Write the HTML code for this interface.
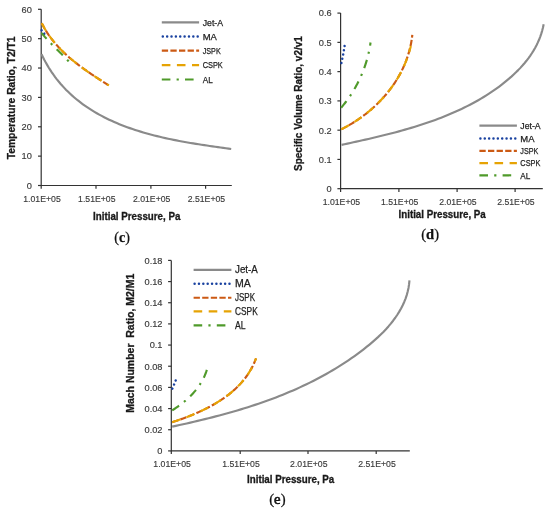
<!DOCTYPE html>
<html><head><meta charset="utf-8"><style>
html,body{margin:0;padding:0;background:#fff;width:550px;height:512px;overflow:hidden}
svg{display:block;will-change:transform}
</style></head><body>
<svg width="550" height="512" viewBox="0 0 550 512">
<rect width="550" height="512" fill="#fff"/>
<path d="M41.2,9.3 V185.5 H231.8" fill="none" stroke="#333" stroke-width="1.2"/>
<path d="M38.0,185.50 H41.2" stroke="#333" stroke-width="1.2"/>
<text x="31.8" y="188.85" font-family="Liberation Sans" font-size="9.25" font-weight="normal" text-anchor="end" fill="#3a3a3a" stroke="#3a3a3a" stroke-width="0.15">0</text>
<path d="M38.0,156.13 H41.2" stroke="#333" stroke-width="1.2"/>
<text x="31.8" y="159.48" font-family="Liberation Sans" font-size="9.25" font-weight="normal" text-anchor="end" fill="#3a3a3a" stroke="#3a3a3a" stroke-width="0.15">10</text>
<path d="M38.0,126.77 H41.2" stroke="#333" stroke-width="1.2"/>
<text x="31.8" y="130.12" font-family="Liberation Sans" font-size="9.25" font-weight="normal" text-anchor="end" fill="#3a3a3a" stroke="#3a3a3a" stroke-width="0.15">20</text>
<path d="M38.0,97.40 H41.2" stroke="#333" stroke-width="1.2"/>
<text x="31.8" y="100.75" font-family="Liberation Sans" font-size="9.25" font-weight="normal" text-anchor="end" fill="#3a3a3a" stroke="#3a3a3a" stroke-width="0.15">30</text>
<path d="M38.0,68.03 H41.2" stroke="#333" stroke-width="1.2"/>
<text x="31.8" y="71.38" font-family="Liberation Sans" font-size="9.25" font-weight="normal" text-anchor="end" fill="#3a3a3a" stroke="#3a3a3a" stroke-width="0.15">40</text>
<path d="M38.0,38.67 H41.2" stroke="#333" stroke-width="1.2"/>
<text x="31.8" y="42.02" font-family="Liberation Sans" font-size="9.25" font-weight="normal" text-anchor="end" fill="#3a3a3a" stroke="#3a3a3a" stroke-width="0.15">50</text>
<path d="M38.0,9.30 H41.2" stroke="#333" stroke-width="1.2"/>
<text x="31.8" y="12.65" font-family="Liberation Sans" font-size="9.25" font-weight="normal" text-anchor="end" fill="#3a3a3a" stroke="#3a3a3a" stroke-width="0.15">60</text>
<path d="M41.20,185.5 V188.7" stroke="#333" stroke-width="1.2"/>
<text x="42.00" y="201.80" font-family="Liberation Sans" font-size="9.4" font-weight="normal" text-anchor="middle" fill="#3a3a3a" stroke="#3a3a3a" stroke-width="0.15" textLength="37.5" lengthAdjust="spacingAndGlyphs">1.01E+05</text>
<path d="M96.00,185.5 V188.7" stroke="#333" stroke-width="1.2"/>
<text x="96.80" y="201.80" font-family="Liberation Sans" font-size="9.4" font-weight="normal" text-anchor="middle" fill="#3a3a3a" stroke="#3a3a3a" stroke-width="0.15" textLength="37.5" lengthAdjust="spacingAndGlyphs">1.51E+05</text>
<path d="M150.90,185.5 V188.7" stroke="#333" stroke-width="1.2"/>
<text x="151.70" y="201.80" font-family="Liberation Sans" font-size="9.4" font-weight="normal" text-anchor="middle" fill="#3a3a3a" stroke="#3a3a3a" stroke-width="0.15" textLength="37.5" lengthAdjust="spacingAndGlyphs">2.01E+05</text>
<path d="M205.60,185.5 V188.7" stroke="#333" stroke-width="1.2"/>
<text x="206.40" y="201.80" font-family="Liberation Sans" font-size="9.4" font-weight="normal" text-anchor="middle" fill="#3a3a3a" stroke="#3a3a3a" stroke-width="0.15" textLength="37.5" lengthAdjust="spacingAndGlyphs">2.51E+05</text>
<text x="136.75" y="219.8" font-family="Liberation Sans" font-size="10" font-weight="bold" text-anchor="middle" fill="#1a1a1a" stroke="#1a1a1a" stroke-width="0.3" textLength="87.3" lengthAdjust="spacingAndGlyphs">Initial Pressure, Pa</text>
<text transform="translate(14.7,159.3) rotate(-90)" x="0" y="0" font-family="Liberation Sans" font-size="10.5" font-weight="bold" fill="#1a1a1a" stroke="#1a1a1a" stroke-width="0.3" textLength="122.8" lengthAdjust="spacingAndGlyphs" xml:space="preserve">Temperature Ratio, T2/T1</text>
<path d="M41.54,54.16 L42.87,56.94 L44.24,59.65 L45.66,62.31 L47.13,64.90 L48.65,67.45 L50.21,69.93 L51.81,72.36 L53.46,74.73 L55.16,77.06 L56.89,79.32 L58.67,81.54 L60.49,83.70 L62.35,85.81 L64.25,87.87 L66.18,89.89 L68.16,91.85 L70.17,93.76 L72.21,95.63 L74.29,97.45 L76.41,99.23 L78.56,100.96 L80.74,102.64 L82.95,104.28 L85.19,105.88 L87.46,107.44 L89.76,108.95 L92.09,110.42 L94.45,111.86 L96.83,113.25 L99.24,114.61 L101.68,115.92 L104.13,117.21 L106.61,118.45 L109.12,119.66 L111.64,120.83 L114.19,121.97 L116.75,123.07 L119.34,124.15 L121.94,125.19 L124.56,126.20 L127.19,127.18 L129.84,128.13 L132.51,129.04 L135.19,129.94 L137.88,130.80 L140.59,131.64 L143.30,132.45 L146.03,133.23 L148.77,133.99 L151.51,134.73 L154.26,135.44 L157.03,136.13 L159.79,136.80 L162.56,137.45 L165.34,138.08 L168.12,138.69 L170.91,139.28 L173.69,139.85 L176.48,140.40 L179.27,140.94 L182.05,141.46 L184.84,141.97 L187.62,142.46 L190.40,142.94 L193.18,143.40 L195.95,143.85 L198.72,144.30 L201.48,144.73 L204.24,145.15 L206.98,145.56 L209.72,145.96 L212.45,146.36 L215.16,146.74 L217.87,147.13 L220.56,147.50 L223.24,147.87 L225.91,148.24 L228.56,148.60 L231.20,148.96" fill="none" stroke="#8a8a8a" stroke-width="2.15" stroke-linecap="butt" stroke-linejoin="round"/>
<path d="M41.60,30.20 L44.30,33.70" fill="none" stroke="#1a42a0" stroke-width="2.5" stroke-linecap="round" stroke-linejoin="round" stroke-dasharray="0.01 4.35"/>
<path d="M41.76,23.15 L42.31,24.24 L42.87,25.32 L43.44,26.39 L44.03,27.44 L44.62,28.49 L45.23,29.52 L45.85,30.55 L46.48,31.56 L47.12,32.57 L47.78,33.56 L48.44,34.55 L49.12,35.52 L49.80,36.49 L50.50,37.45 L51.20,38.39 L51.92,39.33 L52.64,40.26 L53.38,41.18 L54.12,42.10 L54.88,43.00 L55.64,43.89 L56.41,44.78 L57.19,45.66 L57.98,46.53 L58.78,47.39 L59.59,48.25 L60.40,49.10 L61.22,49.94 L62.05,50.77 L62.89,51.59 L63.73,52.41 L64.58,53.22 L65.44,54.03 L66.31,54.82 L67.18,55.61 L68.06,56.40 L68.94,57.18 L69.83,57.95 L70.73,58.71 L71.63,59.47 L72.54,60.23 L73.46,60.97 L74.37,61.72 L75.30,62.45 L76.23,63.19 L77.16,63.91 L78.10,64.63 L79.04,65.35 L79.99,66.06 L80.94,66.77 L81.89,67.47 L82.85,68.17 L83.81,68.86 L84.78,69.55 L85.74,70.24 L86.72,70.92 L87.69,71.60 L88.67,72.27 L89.64,72.95 L90.62,73.61 L91.61,74.28 L92.59,74.94 L93.58,75.60 L94.57,76.25 L95.56,76.91 L96.55,77.56 L97.54,78.20 L98.53,78.85 L99.53,79.49 L100.52,80.13 L101.51,80.77 L102.51,81.41 L103.50,82.04 L104.50,82.68 L105.49,83.31 L106.48,83.94 L107.48,84.57 L108.47,85.20 L109.46,85.83" fill="none" stroke="#cc5a14" stroke-width="2.15" stroke-linecap="butt" stroke-linejoin="round" stroke-dasharray="6.3 2.3"/>
<path d="M41.76,23.16 L42.30,24.24 L42.86,25.31 L43.43,26.37 L44.01,27.41 L44.60,28.45 L45.21,29.48 L45.82,30.50 L46.45,31.50 L47.09,32.50 L47.74,33.49 L48.40,34.47 L49.07,35.44 L49.75,36.40 L50.44,37.35 L51.14,38.29 L51.85,39.22 L52.56,40.15 L53.29,41.06 L54.03,41.97 L54.78,42.87 L55.54,43.76 L56.30,44.64 L57.07,45.52 L57.86,46.38 L58.65,47.24 L59.45,48.09 L60.25,48.94 L61.07,49.77 L61.89,50.60 L62.72,51.42 L63.55,52.24 L64.40,53.05 L65.25,53.85 L66.11,54.64 L66.97,55.43 L67.84,56.21 L68.72,56.98 L69.60,57.75 L70.49,58.52 L71.38,59.27 L72.28,60.02 L73.19,60.77 L74.10,61.51 L75.01,62.24 L75.93,62.97 L76.86,63.70 L77.79,64.41 L78.72,65.13 L79.66,65.84 L80.61,66.54 L81.55,67.24 L82.50,67.93 L83.46,68.63 L84.41,69.31 L85.37,69.99 L86.34,70.67 L87.30,71.35 L88.27,72.02 L89.24,72.68 L90.22,73.35 L91.19,74.01 L92.17,74.66 L93.15,75.32 L94.13,75.97 L95.12,76.62 L96.10,77.26 L97.09,77.90 L98.07,78.54 L99.06,79.18 L100.05,79.81 L101.04,80.45 L102.03,81.08 L103.02,81.71 L104.01,82.33 L105.00,82.96 L105.99,83.58 L106.98,84.20 L107.96,84.82 L108.95,85.44" fill="none" stroke="#e6a304" stroke-width="2.15" stroke-linecap="butt" stroke-linejoin="round" stroke-dasharray="8.6 6.5"/>
<path d="M41.61,32.89 L41.92,33.30 L42.24,33.70 L42.56,34.10 L42.89,34.49 L43.21,34.89 L43.54,35.28 L43.87,35.68 L44.20,36.07 L44.53,36.46 L44.86,36.85 L45.20,37.23 L45.54,37.62 L45.87,38.00 L46.21,38.38 L46.56,38.76 L46.90,39.14 L47.24,39.52 L47.59,39.90 L47.93,40.27 L48.28,40.65 L48.63,41.02 L48.98,41.39 L49.33,41.77 L49.68,42.14 L50.04,42.51 L50.39,42.87 L50.75,43.24 L51.10,43.61 L51.46,43.98 L51.82,44.34 L52.18,44.71 L52.54,45.07 L52.89,45.43 L53.26,45.80 L53.62,46.16 L53.98,46.52 L54.34,46.88 L54.70,47.24 L55.06,47.60 L55.43,47.96 L55.79,48.32 L56.16,48.68 L56.52,49.04 L56.88,49.40 L57.25,49.76 L57.61,50.12 L57.98,50.48 L58.34,50.84 L58.71,51.20 L59.07,51.56 L59.43,51.92 L59.80,52.28 L60.16,52.64 L60.53,53.00 L60.89,53.36 L61.25,53.72 L61.61,54.08 L61.98,54.44 L62.34,54.80 L62.70,55.16 L63.06,55.53 L63.42,55.89 L63.78,56.25 L64.14,56.62 L64.50,56.98 L64.85,57.35 L65.21,57.72 L65.56,58.08 L65.92,58.45 L66.27,58.82 L66.63,59.19 L66.98,59.56 L67.33,59.94 L67.68,60.31 L68.03,60.68 L68.37,61.06 L68.72,61.44 L69.06,61.81 L69.41,62.19" fill="none" stroke="#4f9a2a" stroke-width="2.15" stroke-linecap="butt" stroke-linejoin="round" stroke-dasharray="8.6 6.2 2.2 6.2" stroke-dashoffset="0.9"/>
<path d="M161.8,22.3 H199.1" fill="none" stroke="#8a8a8a" stroke-width="2.15" stroke-linecap="butt" stroke-linejoin="round"/>
<text x="202.7" y="25.63" font-family="Liberation Sans" font-size="9.3" font-weight="normal" text-anchor="start" fill="#222" stroke="#222" stroke-width="0.25" textLength="20.4" lengthAdjust="spacingAndGlyphs">Jet-A</text>
<path d="M162.8,36.4 H199.1" fill="none" stroke="#1a42a0" stroke-width="2.5" stroke-linecap="round" stroke-linejoin="round" stroke-dasharray="0.01 4.35"/>
<text x="202.7" y="39.73" font-family="Liberation Sans" font-size="9.3" font-weight="normal" text-anchor="start" fill="#222" stroke="#222" stroke-width="0.25" textLength="14.2" lengthAdjust="spacingAndGlyphs">MA</text>
<path d="M161.8,50.6 H199.1" fill="none" stroke="#cc5a14" stroke-width="2.15" stroke-linecap="butt" stroke-linejoin="round" stroke-dasharray="6.3 2.3"/>
<text x="202.7" y="53.93" font-family="Liberation Sans" font-size="9.3" font-weight="normal" text-anchor="start" fill="#222" stroke="#222" stroke-width="0.25" textLength="18.0" lengthAdjust="spacingAndGlyphs">JSPK</text>
<path d="M161.8,65.1 H199.1" fill="none" stroke="#e6a304" stroke-width="2.15" stroke-linecap="butt" stroke-linejoin="round" stroke-dasharray="8.6 6.5"/>
<text x="202.7" y="68.43" font-family="Liberation Sans" font-size="9.3" font-weight="normal" text-anchor="start" fill="#222" stroke="#222" stroke-width="0.25" textLength="20.1" lengthAdjust="spacingAndGlyphs">CSPK</text>
<path d="M161.8,79.5 H199.1" fill="none" stroke="#4f9a2a" stroke-width="2.15" stroke-linecap="butt" stroke-linejoin="round" stroke-dasharray="8.6 6.2 2.2 6.2"/>
<text x="202.7" y="82.83" font-family="Liberation Sans" font-size="9.3" font-weight="normal" text-anchor="start" fill="#222" stroke="#222" stroke-width="0.25" textLength="10.0" lengthAdjust="spacingAndGlyphs">AL</text>
<text x="114.30" y="241.9" font-family="Liberation Serif" font-size="13.6" fill="#111" stroke="#111" stroke-width="0.25" textLength="15.60" lengthAdjust="spacingAndGlyphs">(<tspan font-weight="bold">c</tspan>)</text>
<path d="M340.6,13.1 V188.7 H542.8" fill="none" stroke="#333" stroke-width="1.2"/>
<path d="M337.40000000000003,188.70 H340.6" stroke="#333" stroke-width="1.2"/>
<text x="331.6" y="192.05" font-family="Liberation Sans" font-size="9.25" font-weight="normal" text-anchor="end" fill="#3a3a3a" stroke="#3a3a3a" stroke-width="0.15">0</text>
<path d="M337.40000000000003,159.43 H340.6" stroke="#333" stroke-width="1.2"/>
<text x="331.6" y="162.78" font-family="Liberation Sans" font-size="9.25" font-weight="normal" text-anchor="end" fill="#3a3a3a" stroke="#3a3a3a" stroke-width="0.15">0.1</text>
<path d="M337.40000000000003,130.17 H340.6" stroke="#333" stroke-width="1.2"/>
<text x="331.6" y="133.52" font-family="Liberation Sans" font-size="9.25" font-weight="normal" text-anchor="end" fill="#3a3a3a" stroke="#3a3a3a" stroke-width="0.15">0.2</text>
<path d="M337.40000000000003,100.90 H340.6" stroke="#333" stroke-width="1.2"/>
<text x="331.6" y="104.25" font-family="Liberation Sans" font-size="9.25" font-weight="normal" text-anchor="end" fill="#3a3a3a" stroke="#3a3a3a" stroke-width="0.15">0.3</text>
<path d="M337.40000000000003,71.63 H340.6" stroke="#333" stroke-width="1.2"/>
<text x="331.6" y="74.98" font-family="Liberation Sans" font-size="9.25" font-weight="normal" text-anchor="end" fill="#3a3a3a" stroke="#3a3a3a" stroke-width="0.15">0.4</text>
<path d="M337.40000000000003,42.37 H340.6" stroke="#333" stroke-width="1.2"/>
<text x="331.6" y="45.72" font-family="Liberation Sans" font-size="9.25" font-weight="normal" text-anchor="end" fill="#3a3a3a" stroke="#3a3a3a" stroke-width="0.15">0.5</text>
<path d="M337.40000000000003,13.10 H340.6" stroke="#333" stroke-width="1.2"/>
<text x="331.6" y="16.45" font-family="Liberation Sans" font-size="9.25" font-weight="normal" text-anchor="end" fill="#3a3a3a" stroke="#3a3a3a" stroke-width="0.15">0.6</text>
<path d="M340.60,188.7 V191.89999999999998" stroke="#333" stroke-width="1.2"/>
<text x="341.40" y="205.00" font-family="Liberation Sans" font-size="9.4" font-weight="normal" text-anchor="middle" fill="#3a3a3a" stroke="#3a3a3a" stroke-width="0.15" textLength="37.5" lengthAdjust="spacingAndGlyphs">1.01E+05</text>
<path d="M398.90,188.7 V191.89999999999998" stroke="#333" stroke-width="1.2"/>
<text x="399.70" y="205.00" font-family="Liberation Sans" font-size="9.4" font-weight="normal" text-anchor="middle" fill="#3a3a3a" stroke="#3a3a3a" stroke-width="0.15" textLength="37.5" lengthAdjust="spacingAndGlyphs">1.51E+05</text>
<path d="M457.10,188.7 V191.89999999999998" stroke="#333" stroke-width="1.2"/>
<text x="457.90" y="205.00" font-family="Liberation Sans" font-size="9.4" font-weight="normal" text-anchor="middle" fill="#3a3a3a" stroke="#3a3a3a" stroke-width="0.15" textLength="37.5" lengthAdjust="spacingAndGlyphs">2.01E+05</text>
<path d="M515.10,188.7 V191.89999999999998" stroke="#333" stroke-width="1.2"/>
<text x="515.90" y="205.00" font-family="Liberation Sans" font-size="9.4" font-weight="normal" text-anchor="middle" fill="#3a3a3a" stroke="#3a3a3a" stroke-width="0.15" textLength="37.5" lengthAdjust="spacingAndGlyphs">2.51E+05</text>
<text x="442.15" y="218.1" font-family="Liberation Sans" font-size="10" font-weight="bold" text-anchor="middle" fill="#1a1a1a" stroke="#1a1a1a" stroke-width="0.3" textLength="87.3" lengthAdjust="spacingAndGlyphs">Initial Pressure, Pa</text>
<text transform="translate(301.5,171.0) rotate(-90)" x="0" y="0" font-family="Liberation Sans" font-size="10.5" font-weight="bold" fill="#1a1a1a" stroke="#1a1a1a" stroke-width="0.3" textLength="134.9" lengthAdjust="spacingAndGlyphs" xml:space="preserve">Specific Volume Ratio, v2/v1</text>
<path d="M341.53,144.88 L344.48,144.25 L347.43,143.61 L350.40,142.96 L353.38,142.31 L356.37,141.66 L359.37,140.99 L362.38,140.32 L365.40,139.64 L368.43,138.95 L371.46,138.25 L374.50,137.53 L377.54,136.81 L380.59,136.07 L383.64,135.32 L386.69,134.56 L389.75,133.78 L392.81,132.99 L395.86,132.18 L398.92,131.35 L401.98,130.51 L405.03,129.65 L408.08,128.77 L411.12,127.87 L414.16,126.95 L417.20,126.01 L420.23,125.05 L423.25,124.06 L426.27,123.06 L429.27,122.03 L432.27,120.97 L435.26,119.89 L438.23,118.79 L441.19,117.65 L444.14,116.49 L447.08,115.31 L450.00,114.09 L452.91,112.84 L455.80,111.57 L458.68,110.26 L461.53,108.93 L464.37,107.56 L467.19,106.15 L469.99,104.72 L472.77,103.25 L475.53,101.74 L478.26,100.20 L480.97,98.62 L483.66,97.01 L486.32,95.36 L488.96,93.67 L491.57,91.94 L494.15,90.17 L496.71,88.36 L499.23,86.51 L501.73,84.62 L504.19,82.68 L506.63,80.70 L509.03,78.68 L511.39,76.61 L513.70,74.49 L515.97,72.33 L518.19,70.12 L520.35,67.87 L522.45,65.56 L524.48,63.20 L526.45,60.79 L528.34,58.32 L530.15,55.81 L531.88,53.23 L533.52,50.61 L535.07,47.92 L536.53,45.18 L537.88,42.38 L539.13,39.53 L540.27,36.61 L541.30,33.63 L542.21,30.59 L543.00,27.48 L543.66,24.31" fill="none" stroke="#8a8a8a" stroke-width="2.15" stroke-linecap="butt" stroke-linejoin="round"/>
<path d="M341.40,63.10 L342.20,59.20 L343.20,54.50 L343.90,50.30 L344.60,45.90" fill="none" stroke="#1a42a0" stroke-width="2.5" stroke-linecap="round" stroke-linejoin="round" stroke-dasharray="0.01 4.35"/>
<path d="M341.32,129.29 L342.70,128.59 L344.08,127.88 L345.45,127.16 L346.81,126.42 L348.17,125.66 L349.51,124.89 L350.85,124.10 L352.19,123.30 L353.51,122.48 L354.83,121.65 L356.14,120.81 L357.44,119.95 L358.73,119.07 L360.01,118.19 L361.28,117.28 L362.54,116.37 L363.79,115.43 L365.04,114.49 L366.27,113.53 L367.49,112.56 L368.70,111.57 L369.90,110.57 L371.09,109.56 L372.26,108.54 L373.43,107.50 L374.58,106.44 L375.72,105.38 L376.85,104.30 L377.96,103.21 L379.07,102.11 L380.15,100.99 L381.23,99.86 L382.29,98.72 L383.34,97.57 L384.37,96.41 L385.39,95.23 L386.40,94.04 L387.39,92.84 L388.36,91.63 L389.32,90.41 L390.27,89.17 L391.19,87.93 L392.11,86.67 L393.00,85.40 L393.88,84.12 L394.75,82.83 L395.59,81.53 L396.42,80.22 L397.23,78.90 L398.03,77.57 L398.80,76.22 L399.56,74.87 L400.30,73.51 L401.02,72.13 L401.72,70.75 L402.40,69.36 L403.07,67.95 L403.71,66.54 L404.34,65.12 L404.94,63.69 L405.52,62.25 L406.09,60.80 L406.63,59.34 L407.15,57.87 L407.65,56.39 L408.13,54.91 L408.59,53.41 L409.03,51.91 L409.44,50.40 L409.83,48.88 L410.20,47.35 L410.55,45.81 L410.87,44.27 L411.17,42.72 L411.45,41.16 L411.70,39.59 L411.93,38.02 L412.13,36.43 L412.31,34.84" fill="none" stroke="#cc5a14" stroke-width="2.15" stroke-linecap="butt" stroke-linejoin="round" stroke-dasharray="6.3 2.3"/>
<path d="M341.27,129.33 L342.54,128.69 L343.80,128.03 L345.06,127.37 L346.31,126.70 L347.55,126.01 L348.79,125.31 L350.02,124.60 L351.24,123.87 L352.46,123.14 L353.67,122.39 L354.87,121.63 L356.06,120.86 L357.25,120.08 L358.42,119.28 L359.59,118.48 L360.75,117.66 L361.90,116.83 L363.05,116.00 L364.18,115.14 L365.31,114.28 L366.42,113.41 L367.53,112.53 L368.63,111.63 L369.72,110.73 L370.79,109.81 L371.86,108.88 L372.92,107.95 L373.97,107.00 L375.01,106.04 L376.04,105.07 L377.06,104.09 L378.07,103.10 L379.06,102.10 L380.05,101.09 L381.02,100.06 L381.99,99.03 L382.94,97.99 L383.88,96.94 L384.81,95.88 L385.73,94.81 L386.63,93.73 L387.53,92.64 L388.41,91.53 L389.28,90.42 L390.14,89.30 L390.98,88.18 L391.81,87.04 L392.63,85.89 L393.44,84.73 L394.23,83.56 L395.01,82.39 L395.77,81.20 L396.52,80.01 L397.26,78.81 L397.99,77.60 L398.70,76.37 L399.39,75.14 L400.08,73.91 L400.74,72.66 L401.40,71.40 L402.03,70.14 L402.66,68.87 L403.27,67.59 L403.86,66.30 L404.44,65.00 L405.00,63.69 L405.55,62.38 L406.08,61.06 L406.59,59.73 L407.09,58.39 L407.57,57.04 L408.04,55.69 L408.49,54.33 L408.92,52.96 L409.34,51.58 L409.74,50.19 L410.12,48.80 L410.49,47.40 L410.84,46.00" fill="none" stroke="#e6a304" stroke-width="2.15" stroke-linecap="butt" stroke-linejoin="round" stroke-dasharray="8.6 6.5"/>
<path d="M341.14,107.74 L341.74,107.04 L342.33,106.34 L342.91,105.63 L343.49,104.91 L344.06,104.20 L344.63,103.48 L345.19,102.75 L345.75,102.02 L346.30,101.29 L346.85,100.55 L347.39,99.81 L347.93,99.06 L348.46,98.31 L348.99,97.56 L349.51,96.80 L350.02,96.04 L350.53,95.28 L351.04,94.51 L351.53,93.74 L352.03,92.97 L352.51,92.19 L353.00,91.41 L353.47,90.62 L353.94,89.83 L354.41,89.04 L354.87,88.25 L355.32,87.45 L355.77,86.65 L356.21,85.84 L356.65,85.03 L357.08,84.22 L357.50,83.41 L357.92,82.59 L358.34,81.77 L358.74,80.95 L359.15,80.12 L359.54,79.29 L359.93,78.46 L360.31,77.63 L360.69,76.79 L361.06,75.95 L361.43,75.11 L361.79,74.26 L362.14,73.42 L362.49,72.57 L362.83,71.72 L363.17,70.86 L363.50,70.00 L363.82,69.14 L364.14,68.28 L364.45,67.42 L364.75,66.55 L365.05,65.68 L365.34,64.81 L365.63,63.94 L365.91,63.07 L366.18,62.19 L366.45,61.31 L366.71,60.43 L366.96,59.55 L367.21,58.67 L367.45,57.78 L367.68,56.89 L367.91,56.00 L368.13,55.11 L368.35,54.22 L368.56,53.33 L368.76,52.43 L368.96,51.53 L369.14,50.64 L369.33,49.74 L369.50,48.84 L369.67,47.93 L369.83,47.03 L369.99,46.12 L370.14,45.22 L370.28,44.31 L370.41,43.40 L370.54,42.49" fill="none" stroke="#4f9a2a" stroke-width="2.15" stroke-linecap="butt" stroke-linejoin="round" stroke-dasharray="8.6 6.2 2.2 6.2" stroke-dashoffset="0.23"/>
<path d="M479.4,125.6 H516.9" fill="none" stroke="#8a8a8a" stroke-width="2.15" stroke-linecap="butt" stroke-linejoin="round"/>
<text x="520.3" y="128.93" font-family="Liberation Sans" font-size="9.3" font-weight="normal" text-anchor="start" fill="#222" stroke="#222" stroke-width="0.25" textLength="20.4" lengthAdjust="spacingAndGlyphs">Jet-A</text>
<path d="M480.4,138.4 H516.9" fill="none" stroke="#1a42a0" stroke-width="2.5" stroke-linecap="round" stroke-linejoin="round" stroke-dasharray="0.01 4.35"/>
<text x="520.3" y="141.73" font-family="Liberation Sans" font-size="9.3" font-weight="normal" text-anchor="start" fill="#222" stroke="#222" stroke-width="0.25" textLength="14.2" lengthAdjust="spacingAndGlyphs">MA</text>
<path d="M479.4,150.9 H516.9" fill="none" stroke="#cc5a14" stroke-width="2.15" stroke-linecap="butt" stroke-linejoin="round" stroke-dasharray="6.3 2.3"/>
<text x="520.3" y="154.23" font-family="Liberation Sans" font-size="9.3" font-weight="normal" text-anchor="start" fill="#222" stroke="#222" stroke-width="0.25" textLength="18.0" lengthAdjust="spacingAndGlyphs">JSPK</text>
<path d="M479.4,163.1 H516.9" fill="none" stroke="#e6a304" stroke-width="2.15" stroke-linecap="butt" stroke-linejoin="round" stroke-dasharray="8.6 6.5"/>
<text x="520.3" y="166.43" font-family="Liberation Sans" font-size="9.3" font-weight="normal" text-anchor="start" fill="#222" stroke="#222" stroke-width="0.25" textLength="20.1" lengthAdjust="spacingAndGlyphs">CSPK</text>
<path d="M479.4,175.3 H516.9" fill="none" stroke="#4f9a2a" stroke-width="2.15" stroke-linecap="butt" stroke-linejoin="round" stroke-dasharray="8.6 6.2 2.2 6.2"/>
<text x="520.3" y="178.63" font-family="Liberation Sans" font-size="9.3" font-weight="normal" text-anchor="start" fill="#222" stroke="#222" stroke-width="0.25" textLength="10.0" lengthAdjust="spacingAndGlyphs">AL</text>
<text x="421.30" y="238.6" font-family="Liberation Serif" font-size="13.6" fill="#111" stroke="#111" stroke-width="0.25" textLength="17.70" lengthAdjust="spacingAndGlyphs">(<tspan font-weight="bold">d</tspan>)</text>
<path d="M171.3,260.4 V450.9 H409.8" fill="none" stroke="#333" stroke-width="1.2"/>
<path d="M168.10000000000002,450.90 H171.3" stroke="#333" stroke-width="1.2"/>
<text x="162.5" y="454.25" font-family="Liberation Sans" font-size="9.25" font-weight="normal" text-anchor="end" fill="#3a3a3a" stroke="#3a3a3a" stroke-width="0.15">0</text>
<path d="M168.10000000000002,429.73 H171.3" stroke="#333" stroke-width="1.2"/>
<text x="162.5" y="433.08" font-family="Liberation Sans" font-size="9.25" font-weight="normal" text-anchor="end" fill="#3a3a3a" stroke="#3a3a3a" stroke-width="0.15">0.02</text>
<path d="M168.10000000000002,408.57 H171.3" stroke="#333" stroke-width="1.2"/>
<text x="162.5" y="411.92" font-family="Liberation Sans" font-size="9.25" font-weight="normal" text-anchor="end" fill="#3a3a3a" stroke="#3a3a3a" stroke-width="0.15">0.04</text>
<path d="M168.10000000000002,387.40 H171.3" stroke="#333" stroke-width="1.2"/>
<text x="162.5" y="390.75" font-family="Liberation Sans" font-size="9.25" font-weight="normal" text-anchor="end" fill="#3a3a3a" stroke="#3a3a3a" stroke-width="0.15">0.06</text>
<path d="M168.10000000000002,366.23 H171.3" stroke="#333" stroke-width="1.2"/>
<text x="162.5" y="369.58" font-family="Liberation Sans" font-size="9.25" font-weight="normal" text-anchor="end" fill="#3a3a3a" stroke="#3a3a3a" stroke-width="0.15">0.08</text>
<path d="M168.10000000000002,345.07 H171.3" stroke="#333" stroke-width="1.2"/>
<text x="162.5" y="348.42" font-family="Liberation Sans" font-size="9.25" font-weight="normal" text-anchor="end" fill="#3a3a3a" stroke="#3a3a3a" stroke-width="0.15">0.1</text>
<path d="M168.10000000000002,323.90 H171.3" stroke="#333" stroke-width="1.2"/>
<text x="162.5" y="327.25" font-family="Liberation Sans" font-size="9.25" font-weight="normal" text-anchor="end" fill="#3a3a3a" stroke="#3a3a3a" stroke-width="0.15">0.12</text>
<path d="M168.10000000000002,302.73 H171.3" stroke="#333" stroke-width="1.2"/>
<text x="162.5" y="306.08" font-family="Liberation Sans" font-size="9.25" font-weight="normal" text-anchor="end" fill="#3a3a3a" stroke="#3a3a3a" stroke-width="0.15">0.14</text>
<path d="M168.10000000000002,281.57 H171.3" stroke="#333" stroke-width="1.2"/>
<text x="162.5" y="284.92" font-family="Liberation Sans" font-size="9.25" font-weight="normal" text-anchor="end" fill="#3a3a3a" stroke="#3a3a3a" stroke-width="0.15">0.16</text>
<path d="M168.10000000000002,260.40 H171.3" stroke="#333" stroke-width="1.2"/>
<text x="162.5" y="263.75" font-family="Liberation Sans" font-size="9.25" font-weight="normal" text-anchor="end" fill="#3a3a3a" stroke="#3a3a3a" stroke-width="0.15">0.18</text>
<path d="M171.30,450.9 V454.09999999999997" stroke="#333" stroke-width="1.2"/>
<text x="172.10" y="466.80" font-family="Liberation Sans" font-size="9.4" font-weight="normal" text-anchor="middle" fill="#3a3a3a" stroke="#3a3a3a" stroke-width="0.15" textLength="37.5" lengthAdjust="spacingAndGlyphs">1.01E+05</text>
<path d="M240.20,450.9 V454.09999999999997" stroke="#333" stroke-width="1.2"/>
<text x="241.00" y="466.80" font-family="Liberation Sans" font-size="9.4" font-weight="normal" text-anchor="middle" fill="#3a3a3a" stroke="#3a3a3a" stroke-width="0.15" textLength="37.5" lengthAdjust="spacingAndGlyphs">1.51E+05</text>
<path d="M308.00,450.9 V454.09999999999997" stroke="#333" stroke-width="1.2"/>
<text x="308.80" y="466.80" font-family="Liberation Sans" font-size="9.4" font-weight="normal" text-anchor="middle" fill="#3a3a3a" stroke="#3a3a3a" stroke-width="0.15" textLength="37.5" lengthAdjust="spacingAndGlyphs">2.01E+05</text>
<path d="M376.20,450.9 V454.09999999999997" stroke="#333" stroke-width="1.2"/>
<text x="377.00" y="466.80" font-family="Liberation Sans" font-size="9.4" font-weight="normal" text-anchor="middle" fill="#3a3a3a" stroke="#3a3a3a" stroke-width="0.15" textLength="37.5" lengthAdjust="spacingAndGlyphs">2.51E+05</text>
<text x="290.65" y="482.9" font-family="Liberation Sans" font-size="10" font-weight="bold" text-anchor="middle" fill="#1a1a1a" stroke="#1a1a1a" stroke-width="0.3" textLength="87.3" lengthAdjust="spacingAndGlyphs">Initial Pressure, Pa</text>
<text transform="translate(134.3,412.8) rotate(-90)" x="0" y="0" font-family="Liberation Sans" font-size="10.5" font-weight="bold" fill="#1a1a1a" stroke="#1a1a1a" stroke-width="0.3" textLength="139.1" lengthAdjust="spacingAndGlyphs" xml:space="preserve">Mach Number  Ratio, M2/M1</text>
<path d="M172.17,426.62 L175.81,425.84 L179.45,425.05 L183.09,424.25 L186.73,423.43 L190.36,422.60 L193.99,421.76 L197.62,420.91 L201.25,420.04 L204.87,419.16 L208.49,418.26 L212.10,417.34 L215.71,416.41 L219.32,415.46 L222.92,414.49 L226.51,413.51 L230.10,412.50 L233.67,411.48 L237.25,410.43 L240.81,409.36 L244.37,408.27 L247.92,407.16 L251.45,406.03 L254.98,404.87 L258.50,403.69 L262.01,402.48 L265.51,401.25 L269.00,399.99 L272.48,398.70 L275.95,397.39 L279.40,396.05 L282.84,394.68 L286.27,393.28 L289.68,391.85 L293.08,390.39 L296.47,388.90 L299.84,387.37 L303.20,385.82 L306.54,384.23 L309.86,382.61 L313.17,380.95 L316.47,379.26 L319.74,377.53 L323.00,375.77 L326.24,373.97 L329.46,372.13 L332.67,370.26 L335.85,368.35 L339.02,366.39 L342.16,364.40 L345.29,362.37 L348.39,360.29 L351.47,358.18 L354.53,356.02 L357.57,353.82 L360.59,351.57 L363.59,349.28 L366.55,346.95 L369.49,344.57 L372.38,342.13 L375.22,339.65 L378.01,337.12 L380.73,334.53 L383.38,331.89 L385.95,329.18 L388.43,326.42 L390.82,323.60 L393.10,320.71 L395.27,317.76 L397.33,314.74 L399.26,311.65 L401.06,308.49 L402.71,305.26 L404.22,301.95 L405.56,298.57 L406.73,295.10 L407.71,291.56 L408.51,287.92 L409.09,284.20 L409.47,280.39" fill="none" stroke="#8a8a8a" stroke-width="2.15" stroke-linecap="butt" stroke-linejoin="round"/>
<path d="M172.40,388.60 L174.10,384.50 L175.80,380.20" fill="none" stroke="#1a42a0" stroke-width="2.5" stroke-linecap="round" stroke-linejoin="round" stroke-dasharray="0.01 4.35"/>
<path d="M172.26,422.20 L173.53,421.78 L174.80,421.35 L176.07,420.92 L177.35,420.48 L178.63,420.03 L179.91,419.58 L181.19,419.12 L182.48,418.65 L183.76,418.18 L185.05,417.70 L186.34,417.21 L187.63,416.71 L188.91,416.21 L190.20,415.70 L191.49,415.18 L192.77,414.65 L194.05,414.12 L195.34,413.57 L196.61,413.02 L197.89,412.46 L199.16,411.89 L200.43,411.31 L201.70,410.72 L202.96,410.12 L204.22,409.51 L205.47,408.90 L206.72,408.27 L207.96,407.63 L209.20,406.98 L210.43,406.33 L211.66,405.66 L212.88,404.98 L214.09,404.29 L215.29,403.59 L216.48,402.88 L217.67,402.16 L218.85,401.42 L220.02,400.68 L221.18,399.92 L222.33,399.15 L223.47,398.37 L224.60,397.58 L225.72,396.77 L226.83,395.96 L227.93,395.13 L229.02,394.28 L230.09,393.43 L231.15,392.56 L232.20,391.68 L233.24,390.78 L234.26,389.87 L235.27,388.95 L236.27,388.01 L237.25,387.06 L238.21,386.09 L239.16,385.12 L240.10,384.12 L241.02,383.11 L241.92,382.09 L242.81,381.05 L243.68,380.00 L244.53,378.93 L245.36,377.85 L246.18,376.75 L246.98,375.63 L247.76,374.50 L248.52,373.35 L249.26,372.19 L249.99,371.01 L250.69,369.81 L251.37,368.60 L252.03,367.37 L252.67,366.13 L253.29,364.86 L253.89,363.58 L254.46,362.28 L255.02,360.97 L255.55,359.63 L256.05,358.28" fill="none" stroke="#cc5a14" stroke-width="2.15" stroke-linecap="butt" stroke-linejoin="round" stroke-dasharray="6.3 2.3"/>
<path d="M172.26,422.20 L173.53,421.78 L174.80,421.35 L176.07,420.92 L177.35,420.48 L178.63,420.03 L179.91,419.58 L181.19,419.12 L182.48,418.65 L183.76,418.18 L185.05,417.70 L186.34,417.21 L187.63,416.71 L188.91,416.21 L190.20,415.70 L191.49,415.18 L192.77,414.65 L194.05,414.12 L195.34,413.57 L196.61,413.02 L197.89,412.46 L199.16,411.89 L200.43,411.31 L201.70,410.72 L202.96,410.12 L204.22,409.51 L205.47,408.90 L206.72,408.27 L207.96,407.63 L209.20,406.98 L210.43,406.33 L211.66,405.66 L212.88,404.98 L214.09,404.29 L215.29,403.59 L216.48,402.88 L217.67,402.16 L218.85,401.42 L220.02,400.68 L221.18,399.92 L222.33,399.15 L223.47,398.37 L224.60,397.58 L225.72,396.77 L226.83,395.96 L227.93,395.13 L229.02,394.28 L230.09,393.43 L231.15,392.56 L232.20,391.68 L233.24,390.78 L234.26,389.87 L235.27,388.95 L236.27,388.01 L237.25,387.06 L238.21,386.09 L239.16,385.12 L240.10,384.12 L241.02,383.11 L241.92,382.09 L242.81,381.05 L243.68,380.00 L244.53,378.93 L245.36,377.85 L246.18,376.75 L246.98,375.63 L247.76,374.50 L248.52,373.35 L249.26,372.19 L249.99,371.01 L250.69,369.81 L251.37,368.60 L252.03,367.37 L252.67,366.13 L253.29,364.86 L253.89,363.58 L254.46,362.28 L255.02,360.97 L255.55,359.63 L256.05,358.28" fill="none" stroke="#e6a304" stroke-width="2.15" stroke-linecap="butt" stroke-linejoin="round" stroke-dasharray="8.6 6.5"/>
<path d="M172.18,410.37 L172.76,410.01 L173.33,409.63 L173.91,409.26 L174.48,408.88 L175.05,408.50 L175.62,408.11 L176.19,407.73 L176.76,407.34 L177.32,406.94 L177.88,406.54 L178.44,406.14 L179.00,405.73 L179.55,405.33 L180.11,404.91 L180.66,404.50 L181.21,404.08 L181.75,403.66 L182.29,403.23 L182.83,402.80 L183.37,402.37 L183.91,401.93 L184.44,401.49 L184.96,401.04 L185.49,400.60 L186.01,400.14 L186.53,399.69 L187.04,399.23 L187.55,398.77 L188.06,398.30 L188.56,397.83 L189.06,397.36 L189.56,396.88 L190.05,396.40 L190.54,395.92 L191.02,395.43 L191.50,394.93 L191.97,394.44 L192.44,393.94 L192.91,393.43 L193.37,392.93 L193.83,392.41 L194.28,391.90 L194.72,391.38 L195.17,390.86 L195.60,390.33 L196.03,389.80 L196.46,389.26 L196.88,388.72 L197.30,388.18 L197.71,387.63 L198.11,387.08 L198.51,386.52 L198.90,385.96 L199.29,385.40 L199.67,384.83 L200.05,384.26 L200.42,383.68 L200.78,383.10 L201.14,382.52 L201.49,381.93 L201.83,381.34 L202.17,380.74 L202.50,380.14 L202.83,379.54 L203.14,378.93 L203.45,378.31 L203.76,377.69 L204.06,377.07 L204.35,376.45 L204.63,375.81 L204.90,375.18 L205.17,374.54 L205.43,373.89 L205.68,373.25 L205.93,372.59 L206.17,371.94 L206.40,371.27 L206.62,370.61 L206.83,369.94" fill="none" stroke="#4f9a2a" stroke-width="2.15" stroke-linecap="butt" stroke-linejoin="round" stroke-dasharray="8.6 6.2 2.2 6.2" stroke-dashoffset="0.34"/>
<path d="M193.6,269.8 H231.4" fill="none" stroke="#8a8a8a" stroke-width="2.15" stroke-linecap="butt" stroke-linejoin="round"/>
<text x="235.0" y="273.49" font-family="Liberation Sans" font-size="10.3" font-weight="normal" text-anchor="start" fill="#222" stroke="#222" stroke-width="0.25" textLength="22.8" lengthAdjust="spacingAndGlyphs">Jet-A</text>
<path d="M194.6,283.7 H231.4" fill="none" stroke="#1a42a0" stroke-width="2.5" stroke-linecap="round" stroke-linejoin="round" stroke-dasharray="0.01 4.35"/>
<text x="235.0" y="287.39" font-family="Liberation Sans" font-size="10.3" font-weight="normal" text-anchor="start" fill="#222" stroke="#222" stroke-width="0.25" textLength="15.8" lengthAdjust="spacingAndGlyphs">MA</text>
<path d="M193.6,297.7 H231.4" fill="none" stroke="#cc5a14" stroke-width="2.15" stroke-linecap="butt" stroke-linejoin="round" stroke-dasharray="6.3 2.3"/>
<text x="235.0" y="301.39" font-family="Liberation Sans" font-size="10.3" font-weight="normal" text-anchor="start" fill="#222" stroke="#222" stroke-width="0.25" textLength="20.0" lengthAdjust="spacingAndGlyphs">JSPK</text>
<path d="M193.6,311.3 H231.4" fill="none" stroke="#e6a304" stroke-width="2.15" stroke-linecap="butt" stroke-linejoin="round" stroke-dasharray="8.6 6.5"/>
<text x="235.0" y="314.99" font-family="Liberation Sans" font-size="10.3" font-weight="normal" text-anchor="start" fill="#222" stroke="#222" stroke-width="0.25" textLength="22.7" lengthAdjust="spacingAndGlyphs">CSPK</text>
<path d="M193.6,325.4 H231.4" fill="none" stroke="#4f9a2a" stroke-width="2.15" stroke-linecap="butt" stroke-linejoin="round" stroke-dasharray="8.6 6.2 2.2 6.2"/>
<text x="235.0" y="329.09" font-family="Liberation Sans" font-size="10.3" font-weight="normal" text-anchor="start" fill="#222" stroke="#222" stroke-width="0.25" textLength="10.6" lengthAdjust="spacingAndGlyphs">AL</text>
<text x="269.20" y="503.9" font-family="Liberation Serif" font-size="13.6" fill="#111" stroke="#111" stroke-width="0.25" textLength="16.40" lengthAdjust="spacingAndGlyphs">(<tspan font-weight="normal" stroke-width="0.55">e</tspan>)</text>
</svg>
</body></html>
